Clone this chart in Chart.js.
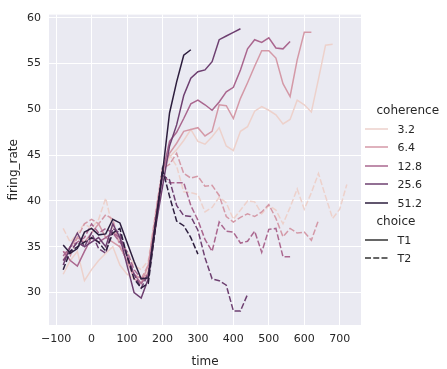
<!DOCTYPE html>
<html>
<head>
<meta charset="utf-8">
<script src="https://cdn.jsdelivr.net/npm/chart.js@4.4.0/dist/chart.umd.min.js"></script>
<style>
  body { margin: 0; background: #fff; }
  #wrap { position: relative; width: 447px; height: 369px; font-family: "DejaVu Sans", sans-serif; color: #262626; }
  #chart { position: absolute; left: 0; top: 0; }
  .leg { position: absolute; white-space: nowrap; transform: translateY(-50%); line-height: 1; }
  .sub { font-size: 12px; }
  .lab { font-size: 11px; }
  svg.handle { position: absolute; overflow: visible; }
</style>
</head>
<body>
<div id="wrap">
  <canvas id="chart" width="447" height="369"></canvas>
  <div id="legend"></div>
</div>
<script>
// time axis (ms), shared by every series; each series starts at -80
const times = [-80, -60, -40, -20, 0, 20, 40, 60, 80, 100, 120, 140, 160, 180, 200,
  220, 240, 260, 280, 300, 320, 340, 360, 380, 400, 420, 440, 460, 480, 500,
  520, 540, 560, 580, 600, 620, 640, 660, 680, 700, 720];

// firing rate per coherence level and choice
const coh32_T1 = [32.0, 33.5, 34.5, 31.3, 32.5, 33.5, 34.3, 35.0, 33.0, 32.0, 31.5, 31.0, 32.5, 37.0,
  43.0, 44.8, 45.6, 46.6, 47.8, 46.5, 46.2, 47.0, 48.0, 46.0, 45.5, 47.6, 48.1, 49.8, 50.3, 49.9,
  49.4, 48.4, 48.9, 51.0, 50.5, 49.7, 53.3, 57.0, 57.1];
const coh32_T2 = [37.0, 35.5, 36.5, 37.5, 37.0, 38.0, 40.3, 37.0, 35.5, 34.5, 33.0, 32.5, 33.5, 38.5,
  43.5, 45.0, 43.8, 41.0, 40.9, 40.7, 38.8, 39.3, 40.4, 39.8, 38.0, 39.0, 40.0, 39.9, 38.6, 39.5,
  39.0, 37.5, 39.3, 41.3, 39.1, 40.9, 43.0, 40.5, 38.1, 39.1, 41.8];
const coh64_T1 = [33.5, 35.0, 36.0, 35.5, 36.5, 37.5, 36.0, 35.5, 35.0, 33.5, 31.5, 31.0, 33.0, 38.0,
  43.3, 45.2, 46.3, 47.6, 47.8, 48.0, 47.1, 47.6, 50.5, 50.4, 49.0, 51.2, 52.9, 54.7, 56.4, 56.4,
  55.6, 52.8, 51.4, 55.4, 58.4, 58.4];
const coh64_T2 = [34.5, 34.0, 36.0, 37.5, 38.0, 37.5, 38.5, 38.0, 35.0, 33.5, 32.0, 31.5, 33.0, 38.5,
  43.5, 44.0, 45.2, 43.0, 42.5, 42.7, 41.6, 41.7, 40.6, 38.3, 37.7, 38.2, 38.6, 38.3, 38.8, 39.6,
  38.1, 36.1, 37.0, 36.5, 36.6, 35.7, 37.9];
const coh128_T1 = [34.5, 33.5, 32.9, 34.5, 36.0, 35.5, 36.0, 36.5, 36.0, 34.0, 32.0, 31.0, 32.0, 37.0,
  43.0, 46.5, 47.5, 49.0, 50.6, 51.0, 50.5, 49.9, 50.8, 51.9, 52.4, 54.3, 56.6, 57.6, 57.3, 57.8,
  56.7, 56.6, 57.4];
const coh128_T2 = [34.0, 35.0, 35.5, 36.0, 37.5, 36.5, 37.0, 36.5, 35.5, 34.5, 32.5, 31.5, 32.0, 38.0,
  43.0, 42.0, 42.0, 42.0, 39.5, 37.9, 35.8, 34.5, 37.7, 36.7, 36.6, 35.4, 35.6, 36.7, 34.4, 36.9,
  37.0, 33.9, 33.9];
const coh256_T1 = [33.0, 35.0, 36.5, 35.0, 35.5, 36.0, 35.0, 37.5, 36.0, 33.0, 30.0, 29.4, 31.5, 37.0,
  41.5, 46.0, 48.3, 51.5, 53.4, 54.1, 54.3, 55.2, 57.6, 58.0, 58.4, 58.8];
const coh256_T2 = [33.5, 34.5, 35.5, 35.0, 36.5, 34.8, 34.3, 37.0, 36.5, 34.0, 32.0, 30.5, 32.0, 37.5,
  42.8, 42.3, 39.5, 38.4, 38.3, 36.8, 33.8, 31.5, 31.3, 30.8, 28.0, 28.0, 29.8];
const coh512_T1 = [35.2, 34.3, 34.8, 36.6, 37.0, 36.3, 36.4, 38.0, 37.6, 35.5, 33.4, 31.5, 31.6, 37.5,
  43.0, 49.6, 53.0, 55.9, 56.5];
const coh512_T2 = [32.5, 34.5, 35.0, 35.5, 36.0, 35.5, 34.5, 36.5, 37.0, 34.0, 31.5, 30.5, 31.0, 37.0,
  43.5, 40.5, 37.8, 37.3, 36.0, 34.2];

const coherences = ['3.2', '6.4', '12.8', '25.6', '51.2'];
const choices = ['T1', 'T2'];
const xTicks = [-100, 0, 100, 200, 300, 400, 500, 600, 700];
const yTicks = [30, 35, 40, 45, 50, 55, 60];

const series = {
  '3.2': { T1: coh32_T1, T2: coh32_T2 },
  '6.4': { T1: coh64_T1, T2: coh64_T2 },
  '12.8': { T1: coh128_T1, T2: coh128_T2 },
  '25.6': { T1: coh256_T1, T2: coh256_T2 },
  '51.2': { T1: coh512_T1, T2: coh512_T2 }
};

// cubehelix colours, log-normed on coherence
const palette = {
  '3.2': '#edd1cb',
  '6.4': '#d499a7',
  '12.8': '#aa678f',
  '25.6': '#6e4071',
  '51.2': '#2d1e3e'
};
const dashes = { T1: [], T2: [6, 2.25] };
const textColor = '#262626';

const datasets = [];
coherences.forEach(c => {
  choices.forEach(ch => {
    datasets.push({
      label: c + ' ' + ch,
      data: series[c][ch].map((v, i) => ({ x: times[i], y: v })),
      borderColor: palette[c],
      borderWidth: 1.5,
      borderDash: dashes[ch],
      pointRadius: 0,
      tension: 0,
      fill: false
    });
  });
});
// first dataset is drawn on top, so darkest levels go first
datasets.reverse();

const plotBg = {
  id: 'plotBg',
  beforeDraw(chart) {
    const { ctx, chartArea: a } = chart;
    ctx.save();
    ctx.fillStyle = '#eaeaf2';
    ctx.fillRect(a.left, a.top, a.right - a.left, a.bottom - a.top);
    ctx.restore();
  }
};

const tickFont = { family: 'DejaVu Sans', size: 11 };
const titleFont = { family: 'DejaVu Sans', size: 12 };

new Chart(document.getElementById('chart'), {
  type: 'line',
  data: { datasets: datasets },
  options: {
    responsive: false,
    animation: false,
    devicePixelRatio: 1,
    layout: { padding: { top: 7, right: 86, left: 0, bottom: 0 } },
    plugins: { legend: { display: false }, tooltip: { enabled: false } },
    scales: {
      x: {
        type: 'linear',
        min: -120,
        max: 760,
        afterBuildTicks: s => { s.ticks = xTicks.map(v => ({ value: v })); },
        afterFit: s => { s.height = 44; },
        grid: { color: '#ffffff', lineWidth: 1, drawTicks: false },
        border: { display: false },
        ticks: {
          font: tickFont, color: textColor, padding: 8, maxRotation: 0,
          callback: v => String(v).replace('-', '\u2212')
        },
        title: { display: true, text: 'time', font: titleFont, color: textColor, padding: { top: 7, bottom: 0 } }
      },
      y: {
        type: 'linear',
        min: 26.46,
        max: 60.34,
        afterBuildTicks: s => { s.ticks = yTicks.map(v => ({ value: v })); },
        afterFit: s => { s.width = 49; },
        grid: { color: '#ffffff', lineWidth: 1, drawTicks: false },
        border: { display: false },
        ticks: { font: tickFont, color: textColor, padding: 8 },
        title: { display: true, text: 'firing_rate', font: titleFont, color: textColor, padding: { top: 7, bottom: 0 } }
      }
    }
  },
  plugins: [plotBg]
});

// legend: subtitles with entries below, like seaborn's combined legend
const legendEl = document.getElementById('legend');
const subX = 376.5, handleX1 = 365, handleX2 = 388, labelX = 397.5;
const rowY = i => 110 + i * 18.5;

function addText(txt, x, y, cls) {
  const d = document.createElement('div');
  d.className = 'leg ' + cls;
  d.style.left = x + 'px';
  d.style.top = y + 'px';
  d.textContent = txt;
  legendEl.appendChild(d);
}
function addHandle(y, color, dash) {
  const ns = 'http://www.w3.org/2000/svg';
  const svg = document.createElementNS(ns, 'svg');
  svg.setAttribute('class', 'handle');
  svg.setAttribute('width', handleX2 - handleX1);
  svg.setAttribute('height', 4);
  svg.style.left = handleX1 + 'px';
  svg.style.top = (y - 2) + 'px';
  const ln = document.createElementNS(ns, 'line');
  ln.setAttribute('x1', 0);
  ln.setAttribute('x2', handleX2 - handleX1);
  ln.setAttribute('y1', 2);
  ln.setAttribute('y2', 2);
  ln.setAttribute('stroke', color);
  ln.setAttribute('stroke-width', 1.5);
  if (dash.length) ln.setAttribute('stroke-dasharray', dash.join(' '));
  svg.appendChild(ln);
  legendEl.appendChild(svg);
}

let row = 0;
addText('coherence', subX, rowY(row++), 'sub');
coherences.forEach(c => {
  const y = rowY(row++);
  addHandle(y, palette[c], []);
  addText(c, labelX, y, 'lab');
});
addText('choice', subX, rowY(row++), 'sub');
choices.forEach(ch => {
  const y = rowY(row++);
  addHandle(y, '#333333', dashes[ch]);
  addText(ch, labelX, y, 'lab');
});
</script>
</body>
</html>
